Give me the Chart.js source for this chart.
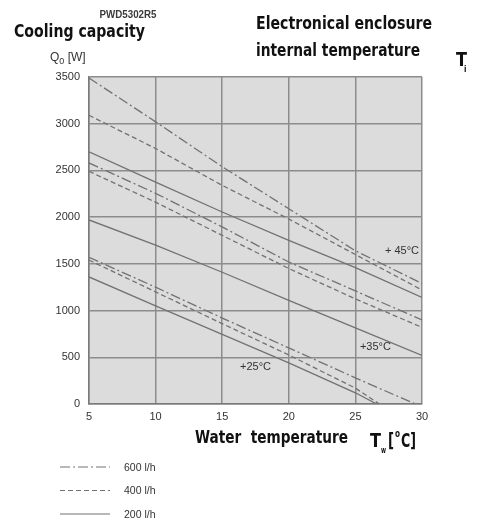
<!DOCTYPE html>
<html>
<head>
<meta charset="utf-8">
<script src="https://cdn.jsdelivr.net/npm/chart.js@4.4.1/dist/chart.umd.min.js"></script>
<style>
  html, body { margin: 0; padding: 0; background: #fff; }
  #chart1 { display: block; }
</style>
</head>
<body>
<canvas id="chart1" width="477" height="524"></canvas>
<script>
// water temperature (x) and cooling capacity Q0 [W]
const waterTemp = [5, 10, 15, 20, 25, 30];

// enclosure internal temperature +45°C
const q45_600 = [3490, 3020, 2540, 2090, 1640, 1290];
const q45_400 = [3090, 2735, 2340, 1980, 1600, 1220];
const q45_200 = [2700, 2375, 2055, 1752, 1460, 1140];

// +35°C
const q35_600 = [2580, 2255, 1895, 1520, 1210, 900];
const q35_400 = [2490, 2160, 1805, 1450, 1125, 820];
const q35_200 = [1970, 1700, 1410, 1110, 815, 520];

// +25°C (these hit zero before 30°C)
const water25_600 = [5, 10, 15, 20, 25, 29.5];
const q25_600 = [1570, 1250, 920, 600, 280, 0];
const water25_400 = [5, 10, 15, 20, 25, 26.8];
const q25_400 = [1540, 1200, 860, 525, 170, 0];
const water25_200 = [5, 10, 15, 20, 25, 26.6];
const q25_200 = [1360, 1050, 745, 440, 120, 0];

const yTicks = [0, 500, 1000, 1500, 2000, 2500, 3000, 3500];
const xTicks = [5, 10, 15, 20, 25, 30];

const flowLabels = ['600 l/h', '400 l/h', '200 l/h'];
const tempLabels = [
  { text: '+ 45°C', x: 28.5, y: 1635 },
  { text: '+35°C', x: 26.5, y: 610 },
  { text: '+25°C', x: 17.5, y: 395 }
];

const lineColor = '#727272';
const gridColor = '#8c8c8c';
const dashes = {
  '600 l/h': [10, 3, 2, 3],
  '400 l/h': [5, 3],
  '200 l/h': []
};
const condensed = '"Liberation Sans Narrow", "DejaVu Sans Condensed", sans-serif';
const plain = '"Liberation Sans", Arial, sans-serif';

function pts(xs, ys) {
  return xs.map((x, i) => ({ x: x, y: ys[i] }));
}

function series(label, xs, ys) {
  return {
    label: label,
    data: pts(xs, ys),
    showLine: true,
    borderColor: lineColor,
    borderWidth: 1.3,
    borderDash: dashes[label],
    pointRadius: 0,
    fill: false
  };
}

// bold heading text squeezed to the width it has in the picture
function heading(ctx, text, x, y, size, width) {
  ctx.font = 'bold ' + size + 'px ' + condensed;
  ctx.fillText(text, x, y, width);
}

// gray plot background + all the surrounding texts
const decor = {
  id: 'decor',
  beforeDraw(chart) {
    const { ctx, chartArea: a } = chart;
    ctx.save();
    ctx.fillStyle = '#dcdcdc';
    ctx.fillRect(a.left, a.top, a.right - a.left, a.bottom - a.top);
    ctx.restore();
  },
  afterDraw(chart) {
    const { ctx, scales } = chart;
    ctx.save();
    ctx.textBaseline = 'alphabetic';

    ctx.fillStyle = '#3a3a3a';
    ctx.font = 'bold 10px ' + plain;
    ctx.textAlign = 'center';
    ctx.fillText('PWD5302R5', 128, 18, 57);

    ctx.fillStyle = '#111';
    ctx.textAlign = 'left';
    heading(ctx, 'Cooling capacity', 14, 37, 18, 131);
    heading(ctx, 'Electronical enclosure', 256, 29, 18, 176);
    heading(ctx, 'internal temperature', 256, 56, 18, 164);

    // T_i
    heading(ctx, 'T', 456, 66, 19, 11);
    heading(ctx, 'i', 464, 72, 8, 4);

    // Q0 [W]
    ctx.fillStyle = '#333';
    ctx.font = '12px ' + plain;
    ctx.fillText('Q', 50, 61);
    let w = ctx.measureText('Q').width;
    ctx.font = '9px ' + plain;
    ctx.fillText('0', 50 + w, 64);
    let w0 = ctx.measureText('0').width;
    ctx.font = '12px ' + plain;
    ctx.fillText(' [W]', 50 + w + w0, 61);

    // x axis title
    ctx.fillStyle = '#111';
    heading(ctx, 'Water  temperature', 195, 443, 18, 153);
    heading(ctx, 'T', 370, 447, 19, 11);
    heading(ctx, 'w', 381, 453, 8, 5);
    heading(ctx, '[', 388, 447, 19, 6);
    heading(ctx, 'o', 395, 437, 10, 5);
    heading(ctx, 'C]', 401, 447, 19, 15);

    // temperature annotations on the curves
    ctx.fillStyle = '#333';
    ctx.font = '11px ' + plain;
    ctx.textAlign = 'center';
    ctx.textBaseline = 'middle';
    tempLabels.forEach(t => {
      ctx.fillText(t.text, scales.x.getPixelForValue(t.x), scales.y.getPixelForValue(t.y));
    });

    // legend
    ctx.textAlign = 'left';
    ctx.font = '10.5px ' + plain;
    flowLabels.forEach((lab, i) => {
      const y = 467 + i * 23.5;
      ctx.strokeStyle = lineColor;
      ctx.lineWidth = 1.2;
      ctx.setLineDash(dashes[lab]);
      ctx.beginPath();
      ctx.moveTo(60, y);
      ctx.lineTo(110, y);
      ctx.stroke();
      ctx.setLineDash([]);
      ctx.fillStyle = '#333';
      ctx.fillText(lab, 124, y + 1);
    });
    ctx.restore();
  }
};

const ctx = document.getElementById('chart1').getContext('2d');
new Chart(ctx, {
  type: 'scatter',
  data: {
    datasets: [
      series('600 l/h', waterTemp, q45_600),
      series('400 l/h', waterTemp, q45_400),
      series('200 l/h', waterTemp, q45_200),
      series('600 l/h', waterTemp, q35_600),
      series('400 l/h', waterTemp, q35_400),
      series('200 l/h', waterTemp, q35_200),
      series('600 l/h', water25_600, q25_600),
      series('400 l/h', water25_400, q25_400),
      series('200 l/h', water25_200, q25_200)
    ]
  },
  options: {
    responsive: false,
    animation: false,
    layout: { padding: { left: 0, top: 77, right: 55, bottom: 0 } },
    plugins: {
      legend: { display: false },
      tooltip: { enabled: false }
    },
    scales: {
      x: {
        type: 'linear',
        min: 5,
        max: 30,
        afterFit: s => { s.height = 120; },
        afterBuildTicks: s => { s.ticks = xTicks.map(v => ({ value: v })); },
        grid: { color: gridColor, lineWidth: 1.5, drawTicks: false },
        border: { color: '#7a7a7a', width: 1.5 },
        ticks: {
          color: '#333',
          font: { size: 11, family: plain },
          padding: 6,
          callback: v => String(v)
        }
      },
      y: {
        min: 0,
        max: 3500,
        afterFit: s => { s.width = 89; },
        afterBuildTicks: s => { s.ticks = yTicks.map(v => ({ value: v })); },
        grid: { color: gridColor, lineWidth: 1.5, drawTicks: false },
        border: { color: '#7a7a7a', width: 1.5 },
        ticks: {
          color: '#333',
          font: { size: 11, family: plain },
          padding: 9,
          callback: v => String(v)
        }
      }
    }
  },
  plugins: [decor]
});
</script>
</body>
</html>
